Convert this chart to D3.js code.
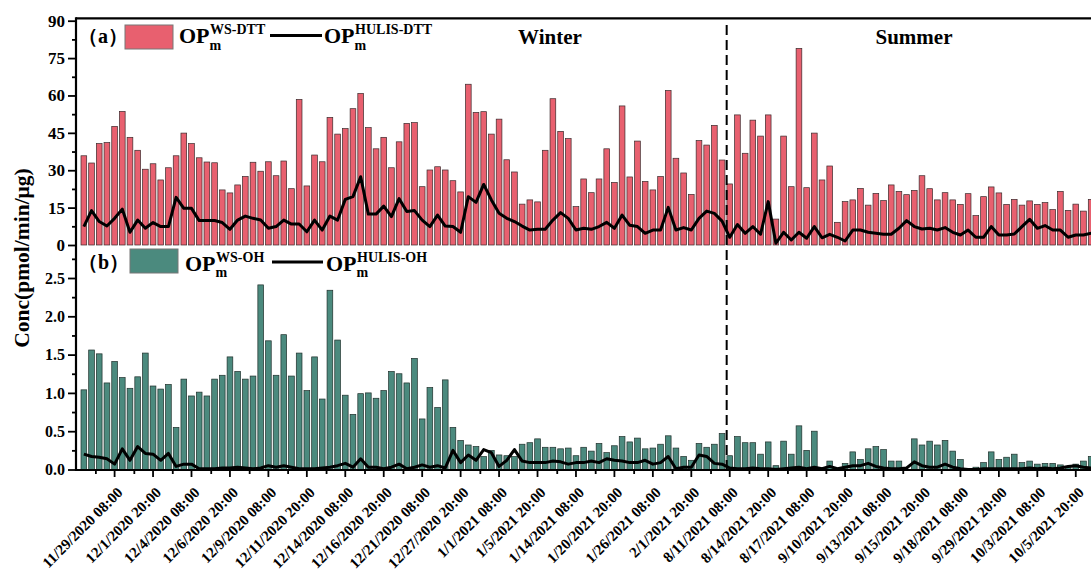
<!DOCTYPE html>
<html><head><meta charset="utf-8">
<script src="https://cdn.jsdelivr.net/npm/d3@7"></script>
<style>
body{margin:0;background:#fff}
svg text{font-family:"Liberation Serif","Times New Roman",serif;font-weight:bold;fill:#000}
</style>
</head><body>
<svg id="c" width="1091" height="573"></svg>
<script>
// ---- data ----
const wsDTT=[35.8,32.9,40.7,41.1,47.6,53.6,43.2,38.0,30.4,32.6,
26.1,31.0,35.8,44.9,40.7,35.0,33.3,33.0,22.1,20.9,
24.1,27.5,33.2,29.6,33.4,27.8,33.7,22.6,58.4,23.7,
36.1,33.4,51.2,44.5,46.7,54.7,60.8,47.1,38.6,43.2,
31.0,41.4,48.8,49.1,23.4,30.1,31.4,30.1,25.8,21.3,
64.5,53.2,53.5,44.5,50.5,34.2,29.3,16.4,18.1,17.3,
38.0,58.7,45.6,42.7,15.4,26.5,21.0,26.5,38.6,25.1,
55.8,27.3,41.7,25.5,22.1,27.5,62.0,34.8,28.9,20.3,
41.9,40.1,48.0,34.1,24.5,52.2,36.8,50.1,43.7,52.2,
10.4,43.7,23.4,78.9,23.0,44.9,26.1,31.7,9.1,17.4,
18.1,22.7,16.0,20.7,17.8,24.1,21.5,20.2,21.9,27.8,
22.6,18.1,21.0,18.1,16.3,20.6,11.8,19.4,23.3,20.9,
16.3,18.3,16.0,17.7,16.3,17.0,14.2,21.5,13.9,16.4,
13.6,18.3];
const hulisDTT=[7.4,13.8,9.4,7.6,10.7,14.4,5.1,10.0,6.7,9.0,
7.4,7.4,19.1,14.7,14.7,9.8,9.8,9.8,9.0,6.3,
10.0,11.6,10.7,10.0,6.7,7.4,10.0,8.4,8.4,5.3,
10.0,6.0,11.6,10.0,18.3,19.4,27.4,12.4,12.4,15.6,
11.4,18.6,13.4,13.8,10.0,7.4,12.0,7.6,7.4,5.1,
19.4,17.1,24.3,18.1,12.7,10.7,9.4,7.6,6.0,6.3,
6.3,10.0,13.0,10.7,6.0,6.7,6.3,7.4,9.1,6.7,
12.0,7.9,7.4,4.7,6.0,6.0,15.1,6.0,7.0,6.0,
10.7,13.6,12.7,9.6,3.1,8.2,4.7,7.4,4.3,17.4,
0.7,5.1,2.0,5.1,2.7,7.4,2.9,4.3,3.1,1.6,
6.0,6.0,5.1,4.7,4.3,4.3,6.7,9.8,7.4,6.4,
6.7,6.0,7.0,5.1,4.0,6.0,3.1,3.1,7.4,4.0,
4.0,4.4,7.4,10.3,6.7,7.8,6.0,6.0,3.1,4.0,
4.0,4.7];
const wsOH=[1.04,1.56,1.51,1.13,1.41,1.20,1.06,1.21,1.52,1.09,
1.05,1.11,0.55,1.18,0.96,1.01,0.96,1.18,1.23,1.47,
1.28,1.18,1.22,2.41,1.68,1.23,1.76,1.22,1.52,1.03,
1.47,0.92,2.34,1.69,0.97,0.72,0.99,1.00,0.93,1.03,
1.28,1.25,1.13,1.45,0.66,1.07,0.81,1.17,0.55,0.38,
0.32,0.30,0.17,0.25,0.19,0.18,0.17,0.33,0.35,0.40,
0.29,0.29,0.27,0.28,0.18,0.29,0.24,0.34,0.22,0.31,
0.43,0.36,0.41,0.27,0.28,0.33,0.44,0.28,0.17,0.12,
0.34,0.29,0.33,0.47,0.18,0.43,0.35,0.35,0.20,0.36,
0.05,0.37,0.20,0.57,0.25,0.50,0.02,0.11,0.01,0.08,
0.23,0.13,0.27,0.30,0.26,0.11,0.11,0.00,0.40,0.32,
0.37,0.32,0.38,0.24,0.13,0.00,0.03,0.09,0.23,0.13,
0.16,0.20,0.09,0.11,0.07,0.08,0.08,0.06,0.04,0.07,
0.11,0.17];
const hulisOH=[0.20,0.17,0.16,0.14,0.07,0.27,0.12,0.30,0.21,0.20,
0.12,0.21,0.04,0.07,0.07,0.01,0.01,0.01,0.02,0.02,
0.03,0.02,0.01,0.02,0.05,0.03,0.05,0.03,0.01,0.01,
0.01,0.02,0.03,0.05,0.08,0.03,0.14,0.03,0.03,0.01,
0.03,0.07,0.01,0.03,0.06,0.03,0.05,0.02,0.25,0.09,
0.19,0.12,0.26,0.22,0.04,0.12,0.26,0.11,0.09,0.09,
0.09,0.11,0.10,0.07,0.09,0.09,0.11,0.09,0.14,0.12,
0.11,0.09,0.09,0.12,0.07,0.09,0.17,0.01,0.03,0.03,
0.19,0.17,0.08,0.07,0.02,0.01,0.01,0.02,0.01,0.01,
0.00,0.01,0.02,0.03,0.01,0.03,0.01,0.04,0.01,0.03,
0.05,0.05,0.08,0.04,0.02,0.01,0.01,0.02,0.10,0.05,
0.03,0.03,0.07,0.03,0.01,0.00,0.00,0.01,0.01,0.01,
0.01,0.01,0.01,0.02,0.01,0.02,0.01,0.02,0.04,0.05,
0.03,0.02];
const xLabels=["11/29/2020 08:00","12/1/2020 20:00","12/4/2020 08:00","12/6/2020 20:00",
"12/9/2020 08:00","12/11/2020 20:00","12/14/2020 08:00","12/16/2020 20:00",
"12/21/2020 08:00","12/27/2020 20:00","1/1/2021 08:00","1/5/2021 20:00",
"1/14/2021 08:00","1/20/2021 20:00","1/26/2021 08:00","2/1/2021 20:00",
"8/11/2021 08:00","8/14/2021 20:00","8/17/2021 08:00","9/10/2021 20:00",
"9/13/2021 08:00","9/15/2021 20:00","9/18/2021 08:00","9/29/2021 20:00",
"10/3/2021 08:00","10/5/2021 20:00"];
const topTicks=[0,15,30,45,60,75,90];
const botTicks=[0,0.5,1.0,1.5,2.0,2.5];
const winterCount=84; // samples before the season divider

// ---- layout ----
const svg=d3.select("#c");
const N=wsDTT.length;
const L=76, R=1099, TOP=18.3, MID=245, BOT=470;
const x=d3.scaleBand().domain(d3.range(N)).range([L,R]).paddingInner(0.26).paddingOuter(0.65);
const xc=i=>x(i)+x.bandwidth()/2;
const xi=d3.scaleLinear().domain([0,N-1]).range([xc(0),xc(N-1)]);
const yT=d3.scaleLinear().domain([0,90]).range([MID,20.7]);
const yB=d3.scaleLinear().domain([0,2.5]).range([469.5,278]);
const PINK="#e8606f", TEAL="#4b8a7e";

// bars
svg.append("g").selectAll("rect").data(wsDTT).join("rect")
  .attr("x",(d,i)=>x(i)).attr("width",x.bandwidth())
  .attr("y",d=>yT(d)).attr("height",d=>yT(0)-yT(d))
  .attr("fill",PINK).attr("stroke","#3a2a2c").attr("stroke-width",0.7);
svg.append("g").selectAll("rect").data(wsOH).join("rect")
  .attr("x",(d,i)=>x(i)).attr("width",x.bandwidth())
  .attr("y",d=>yB(d)).attr("height",d=>yB(0)-yB(d))
  .attr("fill",TEAL).attr("stroke","#1f2f2b").attr("stroke-width",0.7);

// season divider
const xd=xi(winterCount-0.4);
svg.append("line").attr("x1",xd).attr("x2",xd).attr("y1",25).attr("y2",BOT)
  .attr("stroke","#000").attr("stroke-width",2).attr("stroke-dasharray","10,5");

// lines
svg.append("path").datum(hulisDTT)
  .attr("d",d3.line().x((d,i)=>xc(i)).y(d=>yT(d)))
  .attr("fill","none").attr("stroke","#000").attr("stroke-width",3).attr("stroke-linejoin","round");
svg.append("path").datum(hulisOH)
  .attr("d",d3.line().x((d,i)=>xc(i)).y(d=>yB(d)))
  .attr("fill","none").attr("stroke","#000").attr("stroke-width",3).attr("stroke-linejoin","round");

// axes
function styleAxis(g){g.select(".domain").remove();g.selectAll(".tick line").attr("stroke","#000").attr("stroke-width",1.8);}
svg.append("g").attr("transform",`translate(${L},0)`)
  .call(d3.axisLeft(yT).tickValues(topTicks).tickSize(8).tickPadding(3))
  .call(styleAxis).selectAll("text").style("font-size","17px");
svg.append("g").attr("transform",`translate(${L},0)`)
  .call(d3.axisLeft(yT).tickValues(d3.range(7.5,90,15)).tickSize(4).tickFormat(""))
  .call(styleAxis);
svg.append("g").attr("transform",`translate(${L},0)`)
  .call(d3.axisLeft(yB).tickValues(botTicks).tickFormat(d3.format(".1f")).tickSize(8).tickPadding(3))
  .call(styleAxis).selectAll("text").style("font-size","16px");
svg.append("g").attr("transform",`translate(${L},0)`)
  .call(d3.axisLeft(yB).tickValues(d3.range(0.25,2.8,0.5)).tickSize(4).tickFormat(""))
  .call(styleAxis);
const tickIdx=xLabels.map((d,k)=>4+5*k);
const xa=svg.append("g").attr("transform",`translate(0,${BOT})`)
  .call(d3.axisBottom(x).tickValues(tickIdx).tickFormat((d,k)=>xLabels[k]).tickSize(7))
  .call(styleAxis);
xa.selectAll("text").attr("x",0).attr("y",0).attr("dy",0)
  .attr("text-anchor","end").attr("transform","translate(9,23.5) rotate(-45)")
  .style("font-size","15px");
svg.append("g").attr("transform",`translate(0,${BOT})`)
  .call(d3.axisBottom(xi).tickValues(tickIdx.map(d=>d-2.5).concat([N-0.5].filter(v=>v<N))).tickSize(4).tickFormat(""))
  .call(styleAxis);

// frame
svg.append("line").attr("x1",L).attr("x2",1091).attr("y1",TOP).attr("y2",TOP).attr("stroke","#000").attr("stroke-width",2.2);
svg.append("line").attr("x1",L).attr("x2",L).attr("y1",TOP-1).attr("y2",BOT+1).attr("stroke","#000").attr("stroke-width",2.2);
svg.append("line").attr("x1",L-1).attr("x2",1091).attr("y1",BOT).attr("y2",BOT).attr("stroke","#000").attr("stroke-width",2.2);

// y title
svg.append("text").attr("transform","translate(29,258) rotate(-90)").attr("text-anchor","middle")
  .style("font-size","21.5px").text("Conc(pmol/min/μg)");

// season labels
svg.append("text").attr("x",550).attr("y",44).attr("text-anchor","middle").style("font-size","21px").text("Winter");
svg.append("text").attr("x",914).attr("y",44).attr("text-anchor","middle").style("font-size","21px").text("Summer");

// legends: OP with stacked superscript / subscript in one text element
function opLabel(x0,base,sup){
  const t=svg.append("text").attr("x",x0).attr("y",base);
  t.append("tspan").style("font-size","22px").text("OP");
  const s=t.append("tspan").attr("dx",0.5).attr("dy",-9).style("font-size","14px").text(sup);
  const sw=s.node().getComputedTextLength();
  t.append("tspan").attr("dx",-sw-0.5).attr("dy",15.7).style("font-size","14px").text("m");
}
// (a)
svg.append("text").attr("x",78).attr("y",43).style("font-size","20px").text("（a）");
svg.append("rect").attr("x",125).attr("y",25).attr("width",48).attr("height",24)
  .attr("fill",PINK).attr("stroke","#777").attr("stroke-width",1);
opLabel(179,43.3,"WS-DTT");
svg.append("line").attr("x1",270).attr("x2",322).attr("y1",35.5).attr("y2",35.5).attr("stroke","#000").attr("stroke-width",3);
opLabel(324,43.3,"HULIS-DTT");
// (b)
svg.append("text").attr("x",78).attr("y",269).style("font-size","20px").text("（b）");
svg.append("rect").attr("x",130).attr("y",249).attr("width",48).attr("height",24)
  .attr("fill",TEAL).attr("stroke","#777").attr("stroke-width",1);
opLabel(185,270.5,"WS-OH");
svg.append("line").attr("x1",272).attr("x2",323).attr("y1",262).attr("y2",262).attr("stroke","#000").attr("stroke-width",3);
opLabel(326,270.5,"HULIS-OH");
</script>
</body></html>
